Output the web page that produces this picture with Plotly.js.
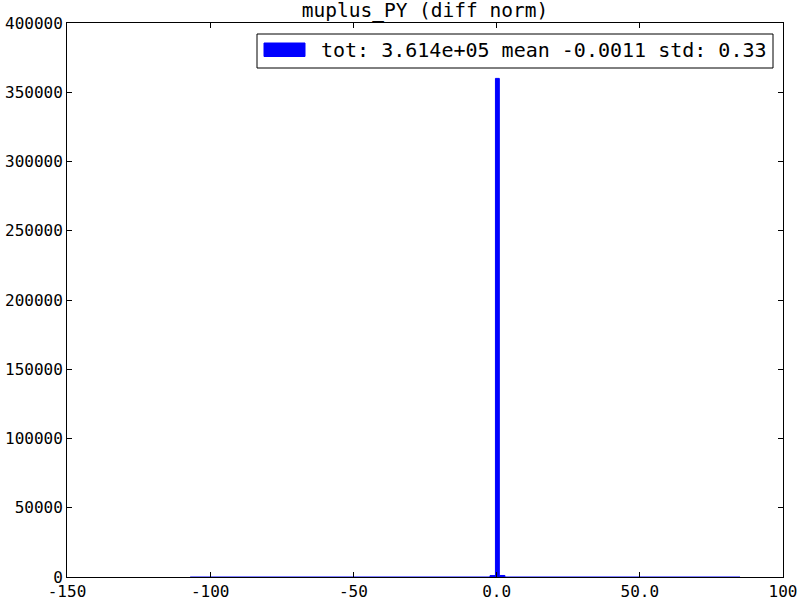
<!DOCTYPE html>
<html>
<head>
<meta charset="utf-8">
<script src="https://cdn.plot.ly/plotly-3.0.1.min.js"></script>
<style>html,body{margin:0;padding:0;background:#fff}</style>
</head>
<body>
<div id="chart" style="width:800px;height:600px"></div>
<script>
// Histogram bin edges (left edges, last is the right edge of the final bin)
const binEdges = [-107.0, -2.3, -0.4, 0.95, 2.9, 85.0];
// Counts per bin (tails are tiny, central bin dominates)
const binCounts = [2, 1000, 360000, 1100, 2];
const xTickVals = [-150, -100, -50, 0, 50, 100];
const xTickText = ["-150", "-100", "-50", "0.0", "50.0", "100"];
const yTickVals = [0, 50000, 100000, 150000, 200000, 250000, 300000, 350000, 400000];
const yTickText = ["0", "50000", "100000", "150000", "200000", "250000", "300000", "350000", "400000"];
const titleText = "muplus_PY (diff norm)";
const legendText = "tot: 3.614e+05 mean -0.0011 std: 0.33";

// step outline: x = edges, y = counts with last value repeated (hv shape)
const stepX = [binEdges[0]].concat(binEdges);
const stepY = [0].concat(binCounts, [binCounts[binCounts.length - 1]]);
stepX.push(binEdges[binEdges.length - 1]);
stepY.push(0);

const font = "DejaVu Sans Mono, monospace";

const trace = {
  type: "scatter",
  mode: "lines",
  x: stepX,
  y: stepY,
  line: {shape: "hv", color: "#0000ff", width: 1},
  fill: "tozeroy",
  fillcolor: "#0000ff",
  showlegend: false,
  hoverinfo: "skip"
};

const axisCommon = {
  showgrid: false,
  zeroline: false,
  showline: true,
  linecolor: "#000",
  linewidth: 1,
  mirror: "ticks",
  ticks: "inside",
  ticklen: 5,
  tickcolor: "#000",
  tickfont: {family: font, size: 16, color: "#000"}
};

const layout = {
  width: 800,
  height: 600,
  margin: {l: 67, r: 17, t: 23, b: 23},
  paper_bgcolor: "#fff",
  plot_bgcolor: "#fff",
  title: {
    text: titleText,
    font: {family: font, size: 19.5, color: "#000"},
    x: 0.5, xref: "paper",
    y: 1 - 10 / 600, yref: "container", yanchor: "middle"
  },
  xaxis: Object.assign({}, axisCommon, {
    range: [-150, 100],
    tickmode: "array",
    tickvals: xTickVals,
    ticktext: xTickText
  }),
  yaxis: Object.assign({}, axisCommon, {
    range: [0, 400000],
    tickmode: "array",
    tickvals: yTickVals,
    ticktext: yTickText
  }),
  shapes: [
    {type: "rect", xref: "paper", yref: "paper",
     x0: (257 - 67) / 716, x1: (773 - 67) / 716,
     y0: (577 - 68) / 554, y1: (577 - 34) / 554,
     line: {color: "#000", width: 1}, fillcolor: "#fff"},
    {type: "rect", xref: "paper", yref: "paper",
     x0: (264 - 67) / 716, x1: (305 - 67) / 716,
     y0: (577 - 56.5) / 554, y1: (577 - 43) / 554,
     line: {color: "#0000ff", width: 1}, fillcolor: "#0000ff"}
  ],
  annotations: [
    {xref: "paper", yref: "paper",
     x: (319 - 67) / 716, y: (577 - 50) / 554,
     xanchor: "left", yanchor: "middle",
     text: legendText, showarrow: false,
     font: {family: font, size: 20, color: "#000"}}
  ],
  showlegend: false
};

Plotly.newPlot("chart", [trace], layout, {displayModeBar: false, staticPlot: true});
</script>
</body>
</html>
